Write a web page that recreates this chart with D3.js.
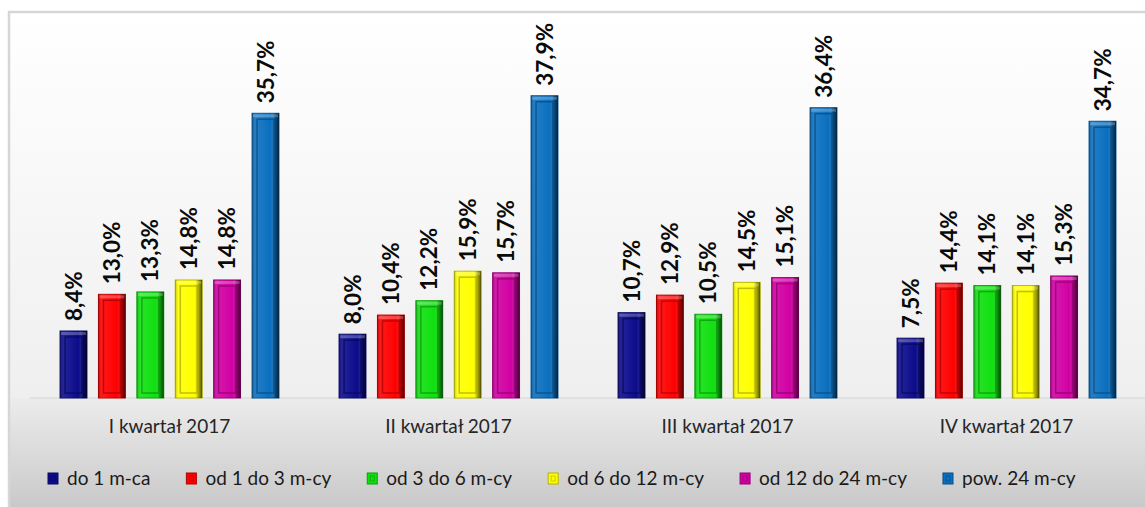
<!DOCTYPE html>
<html>
<head>
<meta charset="utf-8">
<script src="https://cdn.jsdelivr.net/npm/d3@7"></script>
<style>
  body { margin: 0; background: #fff; }
  text { font-family: Lato, "Open Sans", sans-serif; }
</style>
</head>
<body>
<script>
// data
var quarters = ["I kwartał 2017", "II kwartał 2017", "III kwartał 2017", "IV kwartał 2017"];
var seriesNames = ["do 1 m-ca", "od 1 do 3 m-cy", "od 3 do 6 m-cy", "od 6 do 12 m-cy", "od 12 do 24 m-cy", "pow. 24 m-cy"];
var seriesColors = ["#0b0b8c", "#ff0000", "#10e010", "#ffff00", "#d100a3", "#0a6fbf"];
var values = [
    [8.4, 13.0, 13.3, 14.8, 14.8, 35.7],
    [8.0, 10.4, 12.2, 15.9, 15.7, 37.9],
    [10.7, 12.9, 10.5, 14.5, 15.1, 36.4],
    [7.5, 14.4, 14.1, 14.1, 15.3, 34.7]
];

var width = 1145, height = 507;
var baseY = 398;

var svg = d3.select("body").append("svg")
    .attr("width", width)
    .attr("height", height);

var defs = svg.append("defs");

var bgGrad = defs.append("linearGradient").attr("id", "bgTop")
    .attr("x1", 0).attr("y1", 0).attr("x2", 0).attr("y2", 1);
bgGrad.append("stop").attr("offset", "0%").attr("stop-color", "#ffffff");
bgGrad.append("stop").attr("offset", "100%").attr("stop-color", "#efefef");

var axGrad = defs.append("linearGradient").attr("id", "bgBottom")
    .attr("x1", 0).attr("y1", 0).attr("x2", 0).attr("y2", 1);
axGrad.append("stop").attr("offset", "0%").attr("stop-color", "#ececec");
axGrad.append("stop").attr("offset", "100%").attr("stop-color", "#c9c9c9");

// shading across a bar: light left, dark right edge
var shade = defs.append("linearGradient").attr("id", "barShade")
    .attr("x1", 0).attr("y1", 0).attr("x2", 1).attr("y2", 0);
shade.append("stop").attr("offset", "0%").attr("stop-color", "#000").attr("stop-opacity", 0.25);
shade.append("stop").attr("offset", "12%").attr("stop-color", "#fff").attr("stop-opacity", 0.1);
shade.append("stop").attr("offset", "70%").attr("stop-color", "#fff").attr("stop-opacity", 0);
shade.append("stop").attr("offset", "85%").attr("stop-color", "#000").attr("stop-opacity", 0.3);
shade.append("stop").attr("offset", "100%").attr("stop-color", "#000").attr("stop-opacity", 0.65);

// background of chart area
svg.append("rect")
    .attr("x", 9).attr("y", 12)
    .attr("width", width - 9).attr("height", baseY - 12)
    .attr("fill", "url(#bgTop)");
svg.append("rect")
    .attr("x", 9).attr("y", baseY)
    .attr("width", width - 9).attr("height", height - baseY)
    .attr("fill", "url(#bgBottom)");
svg.append("path")
    .attr("d", "M9," + height + "V12H" + width)
    .attr("fill", "none")
    .attr("stroke", "#d6d6d6")
    .attr("stroke-width", 2.5);
svg.append("line")
    .attr("x1", 30).attr("x2", width)
    .attr("y1", baseY).attr("y2", baseY)
    .attr("stroke", "#d4d4d4");

// scales
var x0 = d3.scaleBand().domain(quarters).range([30, 1146]);
var clusterW = 230.4;
var x1 = d3.scaleBand().domain(seriesNames)
    .range([(x0.bandwidth() - clusterW) / 2, (x0.bandwidth() + clusterW) / 2])
    .paddingInner(0.3).paddingOuter(0.15);
var y = d3.scaleLinear().domain([0, 40]).range([baseY, 79]);

var bars = [];
quarters.forEach(function(q, qi) {
    seriesNames.forEach(function(s, si) {
        bars.push({ quarter: q, series: s, color: seriesColors[si], value: values[qi][si] });
    });
});

var g = svg.append("g");
var bar = g.selectAll(".bar")
    .data(bars)
    .enter()
    .append("g")
    .attr("class", "bar")
    .attr("transform", function(d) {
        return "translate(" + (x0(d.quarter) + x1(d.series)) + ",0)";
    });

var bw = x1.bandwidth();
bar.append("rect")
    .attr("x", 0)
    .attr("y", function(d) { return y(d.value); })
    .attr("width", bw)
    .attr("height", function(d) { return baseY - y(d.value); })
    .attr("fill", function(d) { return d.color; })
    .attr("stroke", function(d) { return d3.color(d.color).darker(0.9); })
    .attr("stroke-width", 1);
bar.append("rect")
    .attr("x", 0)
    .attr("y", function(d) { return y(d.value); })
    .attr("width", bw)
    .attr("height", function(d) { return baseY - y(d.value); })
    .attr("fill", "url(#barShade)");
// inner groove of the bevel
bar.append("rect")
    .attr("x", 5)
    .attr("y", function(d) { return y(d.value) + 6; })
    .attr("width", bw - 10)
    .attr("height", function(d) { return Math.max(0, baseY - y(d.value) - 11); })
    .attr("fill", "none")
    .attr("stroke", function(d) { return d3.color(d.color).darker(1.2); })
    .attr("stroke-opacity", 0.7)
    .attr("stroke-width", 1.5);
// light top edge
bar.append("rect")
    .attr("x", 1)
    .attr("y", function(d) { return y(d.value) + 1; })
    .attr("width", bw - 2)
    .attr("height", 3)
    .attr("fill", "#fff")
    .attr("fill-opacity", 0.25);

// value labels
bar.append("text")
    .attr("transform", function(d) {
        return "translate(" + (bw / 2) + "," + (y(d.value) - 10) + ") rotate(-90)";
    })
    .attr("dy", "0.36em")
    .attr("text-anchor", "start")
    .attr("font-size", 22.5)
    .attr("font-weight", "bold")
    .attr("fill", "#0a0a0a")
    .text(function(d) { return d.value.toFixed(1).replace(".", ",") + "%"; });

// category labels
svg.append("g").selectAll("text")
    .data(quarters)
    .enter()
    .append("text")
    .attr("x", function(d) { return x0(d) + x0.bandwidth() / 2; })
    .attr("y", 433)
    .attr("text-anchor", "middle")
    .attr("font-size", 19)
    .attr("fill", "#262626")
    .text(function(d) { return d; });

// legend
var legend = svg.append("g").attr("class", "legend");
var lx = 48;
seriesNames.forEach(function(s, i) {
    var item = legend.append("g").attr("transform", "translate(" + lx + ",0)");
    item.append("rect")
        .attr("x", 0).attr("y", 473)
        .attr("width", 10).attr("height", 11)
        .attr("fill", seriesColors[i])
        .attr("stroke", d3.color(seriesColors[i]).darker(1))
        .attr("stroke-width", 1);
    item.append("rect")
        .attr("x", 3).attr("y", 476)
        .attr("width", 4).attr("height", 5)
        .attr("fill", "none")
        .attr("stroke", d3.color(seriesColors[i]).darker(1.2))
        .attr("stroke-opacity", 0.6);
    var t = item.append("text")
        .attr("x", 19).attr("y", 485)
        .attr("font-size", 19)
        .attr("fill", "#1a1a1a")
        .text(s);
    lx += 19 + t.node().getComputedTextLength() + 36;
});
</script>
</body>
</html>
